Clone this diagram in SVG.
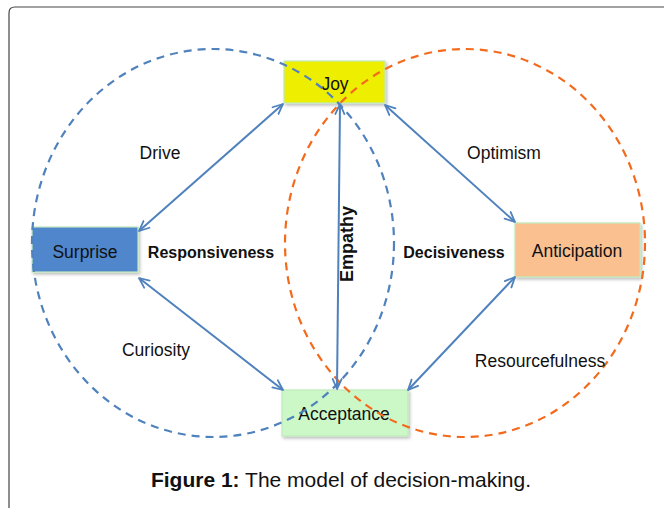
<svg xmlns="http://www.w3.org/2000/svg" width="664" height="508" viewBox="0 0 664 508">
<style>
text{font-family:"Liberation Sans",Arial,sans-serif;fill:#111}
.node{stroke:#bfe9bb;stroke-width:1.2}
.lbl{font-size:17.5px;text-anchor:middle}
.bold{font-weight:bold;font-size:16px;text-anchor:middle}
.conn{stroke:#4f81bd;stroke-width:2;fill:none;marker-start:url(#ah);marker-end:url(#ah)}
.ell{fill:none;stroke-width:2.2;stroke-dasharray:8 6}
</style>
<defs>
<marker id="ah" viewBox="0 0 12 12" refX="11" refY="6" markerWidth="12" markerHeight="12" markerUnits="userSpaceOnUse" orient="auto-start-reverse">
<path d="M1,1.5 L11,6 L1,10.5" fill="none" stroke="#4f81bd" stroke-width="1.8" stroke-linecap="round" stroke-linejoin="round"/>
</marker>
<filter id="sh" x="-10%" y="-10%" width="130%" height="140%">
<feDropShadow dx="1.5" dy="2" stdDeviation="1.5" flood-color="#000" flood-opacity="0.25"/>
</filter>
</defs>
<rect width="664" height="508" fill="#fff"/>
<path d="M9,508 L9,13 Q9,7 15,7 L664,7" fill="none" stroke="#444" stroke-width="1.2"/>

<g id="node-joy">
<rect class="node" x="284" y="61" width="101" height="42" fill="#eeee00" filter="url(#sh)"/>
<text class="lbl" x="335" y="90">Joy</text>
</g>
<g id="node-surprise">
<rect class="node" x="32" y="227" width="106" height="45" fill="#4f86cc" filter="url(#sh)"/>
<text class="lbl" x="85" y="258">Surprise</text>
</g>
<g id="node-anticipation">
<rect class="node" x="515" y="223" width="125" height="54" fill="#fac090" filter="url(#sh)"/>
<text class="lbl" x="577" y="257">Anticipation</text>
</g>
<g id="node-acceptance">
<rect class="node" x="282" y="390" width="126" height="46" fill="#ccf8c8" filter="url(#sh)"/>
<text class="lbl" x="344" y="420">Acceptance</text>
</g>

<g id="circles">
<ellipse class="ell" cx="213" cy="243" rx="181" ry="194" stroke="#4f81bd"/>
<ellipse class="ell" cx="465" cy="243" rx="180" ry="194" stroke="#f46a1c"/>
</g>

<g id="connectors">
<line class="conn" x1="283" y1="104" x2="139" y2="231"/>
<line class="conn" x1="385" y1="105" x2="515" y2="222"/>
<line class="conn" x1="139" y1="278" x2="283" y2="390"/>
<line class="conn" x1="515" y1="277" x2="408" y2="390"/>
<line class="conn" x1="340" y1="104" x2="337" y2="389"/>
</g>

<g id="labels">
<text class="lbl" x="160" y="159">Drive</text>
<text class="lbl" x="504" y="159">Optimism</text>
<text class="lbl" x="156" y="356">Curiosity</text>
<text class="lbl" x="540" y="367">Resourcefulness</text>
<text class="bold" x="211" y="258">Responsiveness</text>
<text class="bold" x="454" y="258">Decisiveness</text>
<text class="bold" transform="translate(353,244) rotate(-90)" style="font-size:18px">Empathy</text>
<text x="341" y="487" style="font-size:21px;text-anchor:middle"><tspan font-weight="bold">Figure 1:</tspan> The model of decision-making.</text>
</g>
</svg>
